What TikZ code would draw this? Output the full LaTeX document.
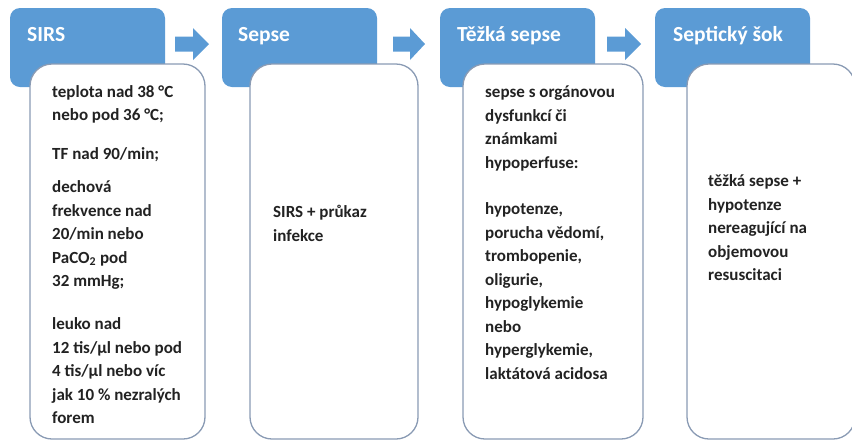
\documentclass[tikz,border=0pt]{standalone}
\usepackage{fontspec}
\setmainfont{Carlito}
\definecolor{accent}{HTML}{5B9BD5}
\definecolor{frame}{HTML}{8A9BB4}
\definecolor{ink}{HTML}{222222}

\begin{document}
\begin{tikzpicture}[x=1pt,y=-1pt,
  stage/.style={fill=accent, rounded corners=10pt, inner sep=0pt, outer sep=0pt,
    minimum width=155pt, minimum height=79pt, anchor=north west},
  card/.style={fill=white, draw=frame, line width=1.3pt, rounded corners=22pt,
    inner sep=0pt, outer sep=0pt, minimum height=375pt, anchor=north west},
  title/.style={anchor=base west, inner sep=0pt, text=white,
    font=\fontsize{21.5}{26}\selectfont\bfseries},
  % multi-line texts are placed by the baseline of their last line
  body/.style={anchor=base west, inner sep=0pt, text=ink, align=left,
    font=\fontsize{17}{23.5}\selectfont\bfseries},
  flow/.style={fill=accent}
]
\useasboundingbox (0,0) rectangle (852,440);

% blue stage headers
\node[stage] (b1) at (10,8) {};
\node[stage] (b2) at (222,8) {};
\node[stage] (b3) at (440,8) {};
\node[stage] (b4) at (655,8) {};

% block arrows between the stages
\fill[flow] (175,36.5) -- (193,36.5) -- (193,28) -- (209,44) -- (193,60) -- (193,51.5) -- (175,51.5) -- cycle;
\fill[flow] (393,36.5) -- (410,36.5) -- (410,28) -- (425,44) -- (410,60) -- (410,51.5) -- (393,51.5) -- cycle;
\fill[flow] (607,36.5) -- (625,36.5) -- (625,28) -- (641,44) -- (625,60) -- (625,51.5) -- (607,51.5) -- cycle;

% white description cards
\node[card, minimum width=175pt] (c1) at (30,64) {};
\node[card, minimum width=168pt] (c2) at (250,64) {};
\node[card, minimum width=180pt] (c3) at (463,64) {};
\node[card, minimum width=168pt] (c4) at (687,64) {};

% stage titles
\node[title] (t1) at (27,41.5) {SIRS};
\node[title] (t2) at (238,41.5) {Sepse};
\node[title] (t3) at (457,41.5) {Těžká sepse};
\node[title] (t4) at (673,41.5) {Septický šok};

% card texts
\node[body] (p1a) at (52,120.5) {teplota nad 38 °C\\nebo pod 36 °C;};
\node[body] (p1b) at (52,159) {TF nad 90/min;};
\node[body] (p1c) at (52,286.5) {dechová\\frekvence nad\\20/min nebo\\PaCO\textsubscript{2} pod\\32 mmHg;};
\node[body] (p1d) at (52,423.5) {leuko nad\\12 tis/µl nebo pod\\4 tis/µl nebo víc\\jak 10 \% nezralých\\forem};

\node[body] (p2) at (273,241) {SIRS + průkaz\\infekce};

\node[body] (p3a) at (485,168) {sepse s orgánovou\\dysfunkcí či\\známkami\\hypoperfuse:};
\node[body] (p3b) at (485,379) {hypotenze,\\porucha vědomí,\\trombopenie,\\oligurie,\\hypoglykemie\\nebo\\hyperglykemie,\\laktátová acidosa};

\node[body] (p4) at (708,280.5) {těžká sepse +\\hypotenze\\nereagující na\\objemovou\\resuscitaci};
\end{tikzpicture}
\end{document}
